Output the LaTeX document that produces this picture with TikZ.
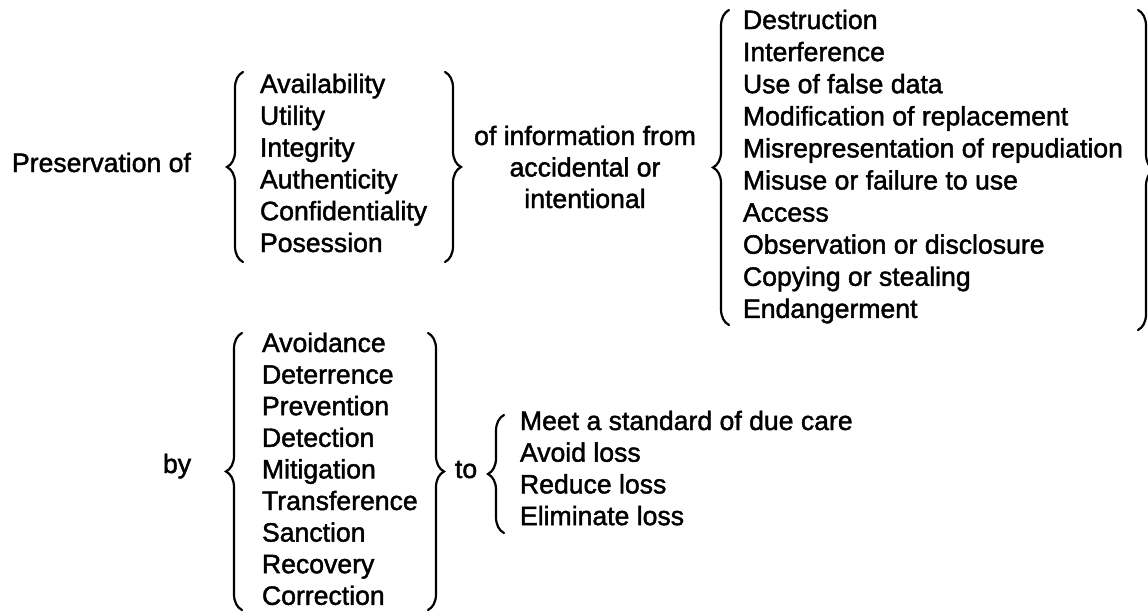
\documentclass[tikz,border=0pt]{standalone}
\usepackage{fontspec}
\setmainfont{Liberation Sans}
\newfontfamily\scanfont{Liberation Sans}[FakeBold=1.6]
\usetikzlibrary{decorations.pathreplacing}
\tikzset{
  lbl/.style={inner sep=0pt, outer sep=0pt, anchor=base west, font=\scanfont\fontsize{26.6}{32}\selectfont},
  ctr/.style={lbl, anchor=base},
  brc/.style={decorate, decoration={brace, amplitude=16pt}, line width=2.2pt, line cap=round}
}
\begin{document}
\begin{tikzpicture}[x=1pt, y=-1pt]
\useasboundingbox (0,0) rectangle (1148,613);
% left texts
\node[lbl] (pres) at (12,172) {Preservation of};
\node[lbl] (by) at (163,473) {by};
\node[lbl] (to) at (455,478) {to};
% middle text
\node[ctr] (inf1) at (585,145) {of information from};
\node[ctr] (inf2) at (585,176.5) {accidental or};
\node[ctr] (inf3) at (585,208) {intentional};
% list 1
\foreach \t [count=\i from 0] in {Availability,Utility,Integrity,Authenticity,Confidentiality,Posession}
  \node[lbl] (qa\i) at (260,{93+31.8*\i}) {\t};
% big list
\foreach \t [count=\i from 0] in {Destruction,Interference,Use of false data,Modification of replacement,Misrepresentation of repudiation,Misuse or failure to use,Access,Observation or disclosure,Copying or stealing,Endangerment}
  \node[lbl] (th\i) at (743,{29+32.1*\i}) {\t};
% list 2
\foreach \t [count=\i from 0] in {Avoidance,Deterrence,Prevention,Detection,Mitigation,Transference,Sanction,Recovery,Correction}
  \node[lbl] (me\i) at (262,{352+31.6*\i}) {\t};
% list 3
\foreach \t [count=\i from 0] in {Meet a standard of due care,Avoid loss,Reduce loss,Eliminate loss}
  \node[lbl] (go\i) at (520,{430+31.7*\i}) {\t};
% braces
\draw[brc] (243,262) -- (243,72);
\draw[brc] (445,72) -- (445,262);
\draw[brc] (729,325) -- (729,10);
\draw[brc] (1138,10) -- (1138,330);
\draw[brc] (242,610) -- (242,333);
\draw[brc] (428,333) -- (428,610);
\draw[brc] (504,533) -- (504,415);
\end{tikzpicture}
\end{document}
